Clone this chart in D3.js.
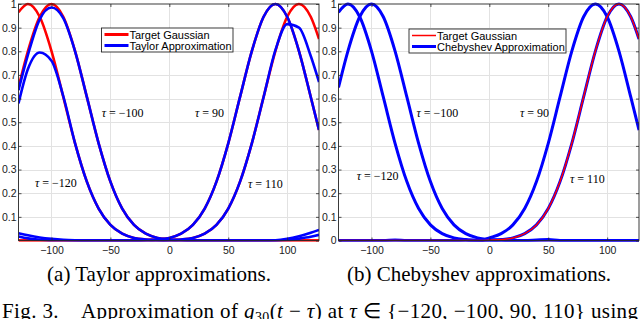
<!DOCTYPE html>
<html>
<head>
<meta charset="utf-8">
<script src="https://cdnjs.cloudflare.com/ajax/libs/d3/7.8.5/d3.min.js"></script>
<style>
body { margin: 0; background: #fff; }
svg { display: block; }
</style>
</head>
<body>
<div id="chart"></div>
<script>
// sample positions t, shared by every curve
var tValues = [-128, -120, -110, -100, -90, -80, -70, -60, -50, -40, -30, -20, -10, 0, 10, 20, 30, 40, 50, 60, 70, 80, 90, 100, 110, 120, 127];

// target gaussians g30(t - tau)
var gaussM120 = [0.965, 1, 0.946, 0.801, 0.607, 0.411, 0.249, 0.135, 0.066, 0.029, 0.011, 0.004, 0.001, 0, 0, 0, 0, 0, 0, 0, 0, 0, 0, 0, 0, 0, 0];
var gaussM100 = [0.647, 0.801, 0.946, 1, 0.946, 0.801, 0.607, 0.411, 0.249, 0.135, 0.066, 0.029, 0.011, 0.004, 0.001, 0, 0, 0, 0, 0, 0, 0, 0, 0, 0, 0, 0];
var gauss90 = [0, 0, 0, 0, 0, 0, 0, 0, 0, 0, 0, 0.001, 0.004, 0.011, 0.029, 0.066, 0.135, 0.249, 0.411, 0.607, 0.801, 0.946, 1, 0.946, 0.801, 0.607, 0.467];
var gauss110 = [0, 0, 0, 0, 0, 0, 0, 0, 0, 0, 0, 0, 0, 0.001, 0.004, 0.011, 0.029, 0.066, 0.135, 0.249, 0.411, 0.607, 0.801, 0.946, 1, 0.946, 0.852];

// taylor approximations
var taylorM120 = [0.58, 0.725, 0.795, 0.76, 0.61, 0.411, 0.249, 0.135, 0.066, 0.029, 0.011, 0.004, 0.001, 0, 0, 0, 0, 0, 0, 0, 0, 0, 0.001, 0.007, 0.018, 0.033, 0.045];
var taylorM100 = [0.636, 0.785, 0.935, 0.985, 0.94, 0.8, 0.607, 0.411, 0.249, 0.135, 0.066, 0.029, 0.011, 0.004, 0.001, 0, 0, 0, 0, 0, 0, 0, 0, 0.002, 0.008, 0.016, 0.024];
var taylor90 = [0.017, 0.009, 0.003, 0, 0, 0, 0, 0, 0, 0, 0, 0.001, 0.004, 0.011, 0.029, 0.066, 0.135, 0.249, 0.411, 0.607, 0.801, 0.946, 1, 0.946, 0.801, 0.607, 0.467];
var taylor110 = [0.031, 0.022, 0.013, 0.007, 0.003, 0.001, 0, 0, 0, 0, 0, 0, 0, 0.001, 0.004, 0.011, 0.029, 0.066, 0.135, 0.249, 0.411, 0.607, 0.805, 0.915, 0.9, 0.78, 0.67];

// chebyshev approximations
var chebM120 = [0.965, 1, 0.946, 0.801, 0.607, 0.411, 0.249, 0.135, 0.066, 0.029, 0.011, 0.004, 0.001, 0, 0, 0, 0, 0.002, 0.004, 0, 0, 0, 0, 0, 0, 0, 0];
var chebM100 = [0.647, 0.801, 0.946, 1, 0.946, 0.801, 0.607, 0.411, 0.249, 0.135, 0.066, 0.029, 0.011, 0.004, 0.001, 0, 0, 0, 0, 0, 0, 0, 0, 0, 0, 0, 0];
var cheb90 = [0, 0, 0, 0, 0, 0.002, 0, 0, 0, 0, 0, 0.001, -0.004, 0.011, 0.029, 0.066, 0.135, 0.249, 0.411, 0.607, 0.801, 0.946, 1, 0.946, 0.801, 0.607, 0.467];
var cheb110 = [0, 0, 0, 0, 0, 0, 0, 0, 0, 0, 0, 0, 0, 0.001, 0.004, 0.011, 0.029, 0.066, 0.135, 0.249, 0.411, 0.607, 0.801, 0.946, 1, 0.946, 0.852];

var xTicks = [-100, -50, 0, 50, 100];
var yTicks = [0, 0.1, 0.2, 0.3, 0.4, 0.5, 0.6, 0.7, 0.8, 0.9, 1];
var tauNames = ["\u2212100", "90", "\u2212120", "110"];

var width = 640,
    height = 319,
    plotTop = 4,
    plotBottom = 240.5;

var svg = d3.select("#chart").append("svg")
    .attr("width", width)
    .attr("height", height);

function drawPanel(cfg) {
    var x = d3.scaleLinear().domain([-128, 127]).range([cfg.left, cfg.right]);
    var y = d3.scaleLinear().domain([0, 1]).range([plotBottom, plotTop]);
    var g = svg.append("g");

    // grid
    g.selectAll(".vgrid")
        .data(xTicks)
        .enter().append("line")
        .attr("x1", d => Math.round(x(d)) + 0.5)
        .attr("x2", d => Math.round(x(d)) + 0.5)
        .attr("y1", plotTop)
        .attr("y2", plotBottom)
        .attr("stroke", "#e2e2e2");
    g.selectAll(".hgrid")
        .data(yTicks.slice(1, -1))
        .enter().append("line")
        .attr("x1", cfg.left)
        .attr("x2", cfg.right)
        .attr("y1", d => Math.round(y(d)) + 0.5)
        .attr("y2", d => Math.round(y(d)) + 0.5)
        .attr("stroke", "#e2e2e2");

    g.append("defs").append("clipPath")
        .attr("id", "clip" + cfg.id)
        .append("rect")
        .attr("x", cfg.left)
        .attr("y", plotTop - 2)
        .attr("width", cfg.right - cfg.left)
        .attr("height", plotBottom - plotTop + 3);

    var line = d3.line()
        .x((d, i) => x(tValues[i]))
        .y(d => y(d))
        .curve(d3.curveMonotoneX);

    var curves = g.append("g").attr("clip-path", "url(#clip" + cfg.id + ")");
    cfg.layers.forEach(function (s) {
        curves.append("path")
            .datum(s.values)
            .attr("d", line)
            .attr("fill", "none")
            .attr("stroke", s.color)
            .attr("stroke-width", s.width)
            .attr("stroke-linejoin", "round");
    });

    // axes, ticks pointing inward
    var tickColor = "#262626";
    var xAxis = d3.axisBottom(x).tickValues(xTicks).tickSizeInner(-3).tickSizeOuter(0).tickPadding(6);
    var yAxis = d3.axisLeft(y).tickValues(cfg.showZero ? yTicks : yTicks.slice(1))
        .tickFormat(d => d === 0 ? "0" : d === 1 ? "1" : d3.format(".1f")(d))
        .tickSizeInner(-3).tickSizeOuter(0).tickPadding(2);
    var xTop = d3.axisTop(x).tickValues(xTicks).tickSizeInner(-3).tickSizeOuter(0).tickFormat("");
    var yRight = d3.axisRight(y).tickValues(yTicks).tickSizeInner(-3).tickSizeOuter(0).tickFormat("");

    [
        [xAxis, "translate(0," + plotBottom + ")"],
        [yAxis, "translate(" + cfg.left + ",0)"],
        [xTop, "translate(0," + plotTop + ")"],
        [yRight, "translate(" + cfg.right + ",0)"]
    ].forEach(function (a) {
        var ax = g.append("g")
            .attr("transform", a[1])
            .call(a[0]);
        ax.select(".domain").remove();
        ax.selectAll("line").attr("stroke", tickColor).attr("stroke-width", 0.8);
        ax.selectAll("text")
            .attr("fill", "#1a1a1a")
            .style("font-family", "Liberation Sans, Arial, sans-serif")
            .style("font-size", "10.5px");
    });

    g.append("rect")
        .attr("x", cfg.left)
        .attr("y", plotTop)
        .attr("width", cfg.right - cfg.left)
        .attr("height", plotBottom - plotTop)
        .attr("fill", "none")
        .attr("stroke", tickColor)
        .attr("stroke-width", 0.9);

    // tau annotations, in data coordinates
    cfg.notes.forEach(function (n, i) {
        var t = g.append("text")
            .attr("x", x(n[0]))
            .attr("y", y(n[1]))
            .style("font-family", "Liberation Serif, Times New Roman, serif")
            .style("font-size", "12px")
            .attr("fill", "#000");
        t.append("tspan").style("font-style", "italic").text("\u03c4");
        t.append("tspan").text(" = " + tauNames[i]);
    });

    // legend
    var lg = g.append("g").attr("transform", "translate(" + cfg.legend.x + "," + cfg.legend.y + ")");
    lg.append("rect")
        .attr("width", cfg.legend.w)
        .attr("height", 24)
        .attr("fill", "#fff")
        .attr("stroke", tickColor)
        .attr("stroke-width", 0.9);
    cfg.legend.items.forEach(function (it, i) {
        var yy = 6.5 + i * 11;
        lg.append("line")
            .attr("x1", 3)
            .attr("x2", 27)
            .attr("y1", yy)
            .attr("y2", yy)
            .attr("stroke", it.color)
            .attr("stroke-width", it.width);
        lg.append("text")
            .attr("x", 28)
            .attr("y", yy + 4)
            .style("font-family", "Liberation Sans, Arial, sans-serif")
            .style("font-size", "11px")
            .attr("fill", "#000")
            .text(it.label);
    });
}

var red = "#ff0000",
    blue = "#0000ff";

drawPanel({
    id: "a",
    left: 18.5,
    right: 319,
    showZero: false,
    layers: [
        { values: gaussM120, color: red, width: 2.6 },
        { values: gaussM100, color: red, width: 2.6 },
        { values: gauss90, color: red, width: 2.6 },
        { values: gauss110, color: red, width: 2.6 },
        { values: taylorM120, color: blue, width: 2.6 },
        { values: taylorM100, color: blue, width: 2.6 },
        { values: taylor90, color: blue, width: 2.6 },
        { values: taylor110, color: blue, width: 2.6 }
    ],
    notes: [[-57.4, 0.523], [21.8, 0.523], [-114, 0.225], [66.8, 0.222]],
    legend: {
        x: 101.5, y: 28, w: 131.5,
        items: [
            { label: "Target Gaussian", color: red, width: 3 },
            { label: "Taylor Approximation", color: blue, width: 3 }
        ]
    }
});

drawPanel({
    id: "b",
    left: 338.5,
    right: 639,
    showZero: true,
    layers: [
        { values: gaussM120, color: red, width: 1.5 },
        { values: gaussM100, color: red, width: 1.5 },
        { values: gauss90, color: red, width: 1.5 },
        { values: chebM120, color: blue, width: 3 },
        { values: chebM100, color: blue, width: 3 },
        { values: cheb90, color: blue, width: 3 },
        { values: cheb110, color: blue, width: 3 },
        { values: gauss110, color: red, width: 1.5 }
    ],
    notes: [[-61.8, 0.523], [26, 0.523], [-112.6, 0.256], [68.5, 0.242]],
    legend: {
        x: 409, y: 29, w: 157,
        items: [
            { label: "Target Gaussian", color: red, width: 1.5 },
            { label: "Chebyshev Approximation", color: blue, width: 3 }
        ]
    }
});

// captions
var serif = "Liberation Serif, Times New Roman, serif";
svg.append("text")
    .attr("x", 159)
    .attr("y", 281)
    .attr("text-anchor", "middle")
    .style("font-family", serif)
    .style("font-size", "21px")
    .text("(a) Taylor approximations.");
svg.append("text")
    .attr("x", 479)
    .attr("y", 281)
    .attr("text-anchor", "middle")
    .style("font-family", serif)
    .style("font-size", "21px")
    .text("(b) Chebyshev approximations.");

var fig = svg.append("text")
    .attr("x", 2)
    .attr("y", 318)
    .attr("textLength", 636)
    .attr("lengthAdjust", "spacing")
    .style("font-family", serif)
    .style("font-size", "21px");
fig.append("tspan").text("Fig. 3.");
fig.append("tspan").attr("dx", 22).text("Approximation of ");
fig.append("tspan").style("font-style", "italic").text("g");
fig.append("tspan").attr("dy", 4).style("font-size", "14px").text("30");
fig.append("tspan").attr("dy", -4).text("(");
fig.append("tspan").style("font-style", "italic").text("t");
fig.append("tspan").text(" \u2212 ");
fig.append("tspan").style("font-style", "italic").text("\u03c4");
fig.append("tspan").text(") at ");
fig.append("tspan").style("font-style", "italic").text("\u03c4");
fig.append("tspan").text(" \u2208 {\u2212120, \u2212100, 90, 110} using");
</script>
</body>
</html>
